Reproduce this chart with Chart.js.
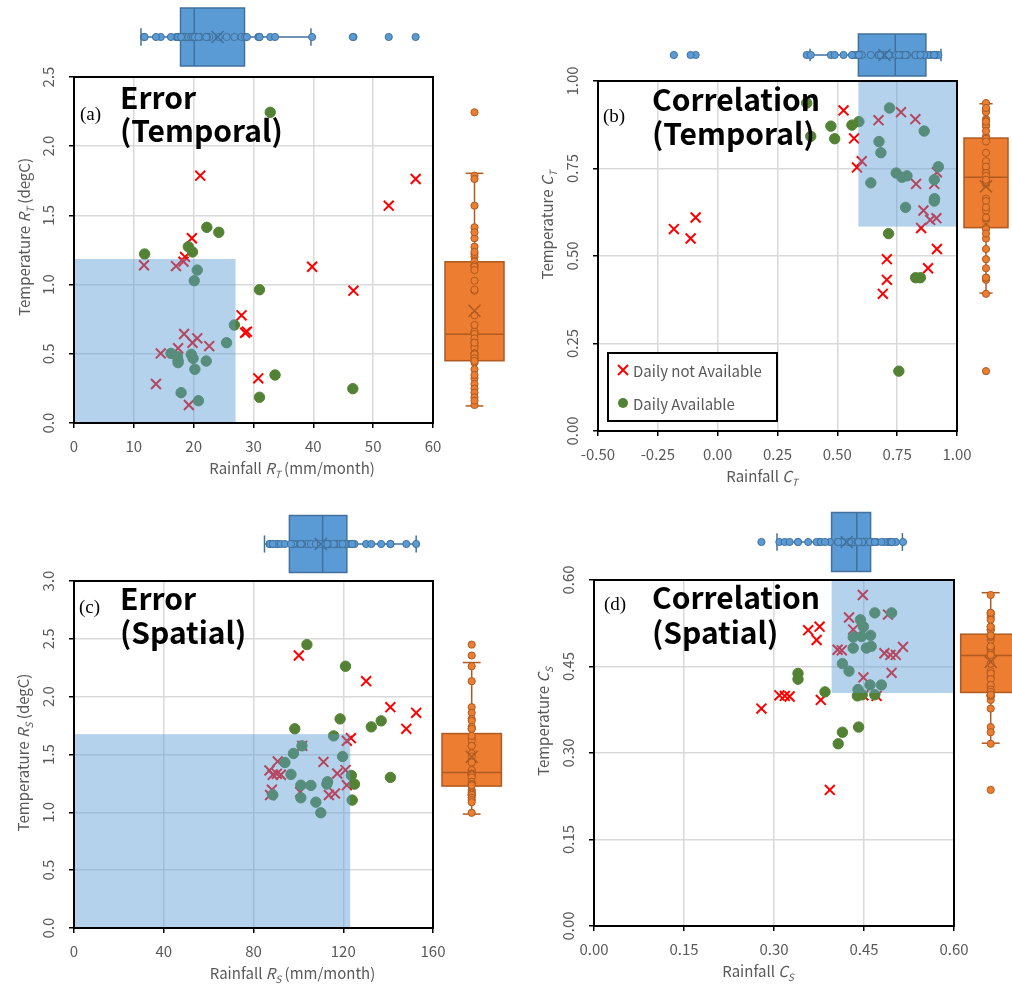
<!DOCTYPE html>
<html>
<head>
<meta charset="utf-8">
<script src="https://cdn.jsdelivr.net/npm/chart.js@4.4.1/dist/chart.umd.min.js"></script>
<style>
    body { margin: 0; background: #fff; width: 1012px; height: 985px; position: relative; overflow: hidden; }
    canvas { position: absolute; }
</style>
</head>
<body>
<canvas id="cA" width="506" height="492" style="left:0;top:0"></canvas>
<canvas id="cB" width="506" height="492" style="left:506px;top:0"></canvas>
<canvas id="cC" width="506" height="493" style="left:0;top:492px"></canvas>
<canvas id="cD" width="506" height="493" style="left:506px;top:492px"></canvas>
<script>
// (a) Error (Temporal)
const aRedX = [21.1, 57.1, 52.6, 19.7, 18.55, 18.3, 17.05, 11.7, 39.8, 46.7, 28.0, 28.6, 28.9, 18.4, 20.6, 19.8, 22.6, 17.4, 14.5, 30.8, 13.7, 19.2];
const aRedY = [1.787, 1.763, 1.570, 1.335, 1.200, 1.166, 1.134, 1.140, 1.129, 0.956, 0.778, 0.652, 0.660, 0.643, 0.612, 0.580, 0.556, 0.540, 0.503, 0.323, 0.282, 0.130];
const aGreenX = [32.8, 22.2, 24.2, 11.8, 19.1, 19.8, 20.6, 20.1, 31.0, 26.8, 25.5, 16.2, 17.3, 17.4, 17.4, 19.6, 19.9, 22.1, 20.2, 33.6, 46.6, 17.9, 31.0, 20.8];
const aGreenY = [2.245, 1.414, 1.378, 1.221, 1.274, 1.236, 1.105, 1.028, 0.963, 0.708, 0.580, 0.503, 0.479, 0.450, 0.436, 0.496, 0.467, 0.448, 0.388, 0.347, 0.248, 0.219, 0.186, 0.161];
const aXTicks = [0, 10, 20, 30, 40, 50, 60];
const aYTicks = [0, 0.5, 1.0, 1.5, 2.0, 2.5];
const aTopBox = [11.2, 17.8, 20.1, 28.5, 39.6];   // whisker, Q1, median, Q3, whisker
const aTopMean = 24.0;
const aSideBox = [0.123, 0.450, 0.641, 1.165, 1.804];
const aSideMean = 0.811;
const aShade = [0, 27.0, 0, 1.185];                // x from, x to, y from, y to

// (b) Correlation (Temporal)
const bRedX = [0.526, 0.766, 0.826, 0.672, 0.570, 0.602, 0.582, 0.916, 0.829, 0.905, 0.860, 0.888, 0.914, 0.850, 0.916, 0.707, 0.707, 0.690, 0.879, -0.092, -0.183, -0.113];
const bRedY = [0.916, 0.911, 0.891, 0.888, 0.836, 0.771, 0.753, 0.739, 0.706, 0.706, 0.630, 0.603, 0.608, 0.580, 0.520, 0.491, 0.432, 0.392, 0.465, 0.610, 0.577, 0.550];
const bGreenX = [0.372, 0.718, 0.473, 0.561, 0.590, 0.389, 0.489, 0.863, 0.674, 0.682, 0.922, 0.746, 0.770, 0.791, 0.640, 0.905, 0.906, 0.905, 0.785, 0.714, 0.827, 0.847, 0.757];
const bGreenY = [0.937, 0.923, 0.871, 0.874, 0.884, 0.842, 0.835, 0.857, 0.827, 0.795, 0.755, 0.737, 0.725, 0.729, 0.709, 0.718, 0.664, 0.657, 0.639, 0.564, 0.438, 0.438, 0.171];
const bXTicks = [-0.5, -0.25, 0, 0.25, 0.5, 0.75, 1.0];
const bYTicks = [0, 0.25, 0.5, 0.75, 1.0];
const bTopBox = [0.386, 0.588, 0.742, 0.870, 0.933];
const bTopMean = 0.697;
const bSideBox = [0.394, 0.581, 0.725, 0.837, 0.935];
const bSideMean = 0.699;
const bShade = [0.588, 1.0, 0.584, 1.0];

// (c) Error (Spatial)
const cRedX = [100.2, 130.2, 141.0, 152.5, 148.1, 123.4, 121.6, 101.7, 111.2, 90.8, 87.1, 121.0, 117.3, 88.6, 90.4, 92.2, 121.6, 88.2, 100.8, 87.4, 113.6, 116.3];
const cRedY = [2.356, 2.134, 1.909, 1.860, 1.722, 1.641, 1.618, 1.575, 1.436, 1.440, 1.362, 1.365, 1.336, 1.325, 1.333, 1.325, 1.235, 1.195, 1.176, 1.150, 1.150, 1.163];
const cGreenX = [103.8, 121.0, 118.6, 136.9, 132.5, 98.4, 115.7, 101.6, 97.8, 119.7, 94.0, 96.7, 123.6, 141.0, 113.0, 112.7, 125.0, 101.1, 105.6, 88.6, 101.1, 124.0, 107.8, 110.0];
const cGreenY = [2.450, 2.263, 1.808, 1.791, 1.739, 1.722, 1.661, 1.575, 1.509, 1.483, 1.431, 1.328, 1.319, 1.302, 1.264, 1.244, 1.244, 1.235, 1.233, 1.151, 1.126, 1.106, 1.088, 0.996];
const cXTicks = [0, 40, 80, 120, 160];
const cYTicks = [0, 0.5, 1.0, 1.5, 2.0, 2.5, 3.0];
const cTopBox = [84.9, 96.0, 110.8, 121.6, 152.5];
const cTopMean = 110.0;
const cSideBox = [0.985, 1.227, 1.345, 1.681, 2.295];
const cSideMean = 1.480;
const cShade = [0, 123.1, 0, 1.676];

// (d) Correlation (Spatial)
const dRedX = [0.448, 0.425, 0.490, 0.432, 0.357, 0.376, 0.371, 0.406, 0.413, 0.515, 0.484, 0.494, 0.503, 0.496, 0.449, 0.309, 0.318, 0.326, 0.471, 0.449, 0.378, 0.279, 0.393];
const dRedY = [0.574, 0.535, 0.540, 0.514, 0.513, 0.519, 0.496, 0.479, 0.478, 0.484, 0.473, 0.470, 0.470, 0.439, 0.431, 0.400, 0.399, 0.398, 0.399, 0.400, 0.392, 0.377, 0.236];
const dGreenX = [0.468, 0.496, 0.444, 0.449, 0.432, 0.446, 0.461, 0.432, 0.454, 0.462, 0.414, 0.425, 0.340, 0.340, 0.460, 0.479, 0.440, 0.385, 0.439, 0.468, 0.447, 0.441, 0.414, 0.407];
const dGreenY = [0.543, 0.543, 0.531, 0.519, 0.501, 0.502, 0.504, 0.482, 0.482, 0.485, 0.455, 0.442, 0.438, 0.428, 0.418, 0.418, 0.410, 0.406, 0.399, 0.401, 0.401, 0.345, 0.336, 0.316];
const dXTicks = [0, 0.15, 0.30, 0.45, 0.60];
const dYTicks = [0, 0.15, 0.30, 0.45, 0.60];
const dTopBox = [0.305, 0.396, 0.438, 0.461, 0.514];
const dTopMean = 0.421;
const dSideBox = [0.317, 0.405, 0.469, 0.506, 0.578];
const dSideMean = 0.458;
const dShade = [0.396, 0.6, 0.404, 0.6];

const seriesNames = ['Daily not Available', 'Daily Available'];

const LF = '"Noto Sans CJK JP", "Noto Sans", sans-serif';
const GRAY = '#595959';
const RED = '#FF0000';
const GREEN = '#548235';

function pts(xs, ys) {
    return xs.map((x, i) => ({ x: x, y: ys[i] }));
}

// 斜体記号と下付き文字を含む軸タイトル
function titleParts(pre, sym, sub, post) {
    const parts = [
        { text: pre, font: `15px ${LF}` },
        { text: sym, font: `italic 15px ${LF}` },
        { text: sub, font: `italic 10px ${LF}`, dy: 4 }
    ];
    if (post) parts.push({ text: post, font: `15px ${LF}` });
    return parts;
}

function drawRich(ctx, parts, cx, cy, rot) {
    ctx.save();
    ctx.translate(cx, cy);
    if (rot) ctx.rotate(rot);
    let w = 0;
    parts.forEach(p => { ctx.font = p.font; w += ctx.measureText(p.text).width; });
    let x = -w / 2;
    ctx.fillStyle = GRAY;
    ctx.textAlign = 'left';
    ctx.textBaseline = 'alphabetic';
    parts.forEach(p => {
        ctx.font = p.font;
        ctx.fillText(p.text, x, 5 + (p.dy || 0));
        x += ctx.measureText(p.text).width;
    });
    ctx.restore();
}

function drawBox(ctx, scale, horizontal, center, half, stats, mean, values, fill, line) {
    const P = (v, o) => horizontal ? [scale.getPixelForValue(v), center + o] : [center + o, scale.getPixelForValue(v)];
    const seg = (a, b) => { ctx.beginPath(); ctx.moveTo(a[0], a[1]); ctx.lineTo(b[0], b[1]); ctx.stroke(); };
    const cap = half * 0.3;
    ctx.save();
    ctx.strokeStyle = line;
    ctx.lineWidth = 1.5;
    seg(P(stats[0], 0), P(stats[1], 0));
    seg(P(stats[3], 0), P(stats[4], 0));
    seg(P(stats[0], -cap), P(stats[0], cap));
    seg(P(stats[4], -cap), P(stats[4], cap));
    const c1 = P(stats[1], -half), c2 = P(stats[3], half);
    const rx = Math.min(c1[0], c2[0]), ry = Math.min(c1[1], c2[1]);
    const rw = Math.abs(c2[0] - c1[0]), rh = Math.abs(c2[1] - c1[1]);
    ctx.fillStyle = fill;
    ctx.fillRect(rx, ry, rw, rh);
    ctx.strokeRect(rx, ry, rw, rh);
    seg(P(stats[2], -half), P(stats[2], half));
    ctx.lineWidth = 1;
    values.forEach(v => {
        const q = P(v, 0);
        ctx.beginPath();
        ctx.arc(q[0], q[1], 3.6, 0, Math.PI * 2);
        ctx.fillStyle = fill;
        ctx.fill();
        ctx.stroke();
    });
    const m = P(mean, 0);
    ctx.lineWidth = 1.5;
    seg([m[0] - 6, m[1] - 6], [m[0] + 6, m[1] + 6]);
    seg([m[0] - 6, m[1] + 6], [m[0] + 6, m[1] - 6]);
    ctx.restore();
}

function makePanel(p) {
    const canvas = document.getElementById(p.id);
    const W = canvas.width, H = canvas.height;
    const L = p.area[0] - p.left, T = p.area[1] - p.top;
    const R = p.area[2] - p.left, B = p.area[3] - p.top;
    const lx = v => v - p.left, ly = v => v - p.top;

    const decor = {
        id: 'decor',
        afterDatasetsDraw(chart) {
            const { ctx, chartArea: a, scales: { x, y } } = chart;
            // 網掛け領域
            ctx.save();
            ctx.beginPath();
            ctx.rect(a.left, a.top, a.right - a.left, a.bottom - a.top);
            ctx.clip();
            const x0 = x.getPixelForValue(p.shade[0]), x1 = x.getPixelForValue(p.shade[1]);
            const y0 = y.getPixelForValue(p.shade[2]), y1 = y.getPixelForValue(p.shade[3]);
            ctx.fillStyle = 'rgba(91,155,213,0.45)';
            ctx.fillRect(x0, y1, x1 - x0, y0 - y1);
            ctx.restore();
            // 枠線
            ctx.save();
            ctx.strokeStyle = '#000';
            ctx.lineWidth = 2;
            ctx.strokeRect(a.left, a.top, a.right - a.left, a.bottom - a.top);
            ctx.restore();
        },
        afterDraw(chart) {
            const { ctx, chartArea: a, scales: { x, y } } = chart;
            // 縦軸目盛ラベル（縦書き）
            ctx.save();
            ctx.fillStyle = GRAY;
            ctx.font = `15px ${LF}`;
            ctx.textAlign = 'center';
            ctx.textBaseline = 'middle';
            y.ticks.forEach(t => {
                const py = y.getPixelForValue(t.value);
                ctx.save();
                ctx.translate(a.left - 27, py);
                ctx.rotate(-Math.PI / 2);
                ctx.fillText(t.value.toFixed(p.yDec), 0, 1);
                ctx.restore();
            });
            ctx.restore();

            drawRich(ctx, p.yTitle, lx(p.yTitlePos[0]), ly(p.yTitlePos[1]), -Math.PI / 2);
            drawRich(ctx, p.xTitle, lx(p.xTitlePos[0]), ly(p.xTitlePos[1]), 0);

            // パネル記号とタイトル
            ctx.save();
            ctx.fillStyle = '#000';
            ctx.textAlign = 'left';
            ctx.textBaseline = 'middle';
            ctx.font = '19px "Liberation Serif", serif';
            ctx.fillText(p.tag, lx(p.tagPos[0]), ly(p.tagPos[1]));
            ctx.textBaseline = 'alphabetic';
            ctx.font = `bold 30px ${LF}`;
            ctx.fillText(p.title[0], lx(p.titlePos[0]), ly(p.titlePos[1]));
            ctx.fillText(p.title[1], lx(p.titlePos[0]), ly(p.titlePos[2]));
            ctx.restore();

            // 箱ひげ図
            const allX = p.red.x.concat(p.green.x);
            const allY = p.red.y.concat(p.green.y);
            drawBox(ctx, x, true, ly(p.topPos[0]), p.topPos[1], p.topBox, p.topMean, allX, '#5B9BD5', '#41719C');
            drawBox(ctx, y, false, lx(p.sidePos[0]), p.sidePos[1], p.sideBox, p.sideMean, allY, '#ED7D31', '#AE5A21');

            // 凡例
            if (p.legend) {
                const [bx0, by0, bx1, by1] = p.legend.map((v, i) => i % 2 ? ly(v) : lx(v));
                ctx.save();
                ctx.fillStyle = '#fff';
                ctx.fillRect(bx0, by0, bx1 - bx0, by1 - by0);
                ctx.strokeStyle = '#000';
                ctx.lineWidth = 2;
                ctx.strokeRect(bx0, by0, bx1 - bx0, by1 - by0);
                const mx = bx0 + 15, r1 = by0 + 17, r2 = by0 + 50;
                ctx.strokeStyle = RED;
                ctx.lineWidth = 2;
                ctx.beginPath();
                ctx.moveTo(mx - 5, r1 - 5); ctx.lineTo(mx + 5, r1 + 5);
                ctx.moveTo(mx - 5, r1 + 5); ctx.lineTo(mx + 5, r1 - 5);
                ctx.stroke();
                ctx.fillStyle = GREEN;
                ctx.beginPath();
                ctx.arc(mx, r2, 5, 0, Math.PI * 2);
                ctx.fill();
                ctx.fillStyle = GRAY;
                ctx.font = `15px ${LF}`;
                ctx.textAlign = 'left';
                ctx.textBaseline = 'middle';
                ctx.fillText(seriesNames[0], mx + 10, r1 + 1);
                ctx.fillText(seriesNames[1], mx + 10, r2 + 1);
                ctx.restore();
            }
        }
    };

    const xt = p.xTicks, yt = p.yTicks;
    new Chart(canvas.getContext('2d'), {
        type: 'scatter',
        data: {
            datasets: [
                {
                    label: seriesNames[0],
                    data: pts(p.red.x, p.red.y),
                    pointStyle: 'crossRot',
                    pointRadius: 7,
                    borderColor: RED,
                    backgroundColor: RED,
                    borderWidth: 2,
                    order: 2
                },
                {
                    label: seriesNames[1],
                    data: pts(p.green.x, p.green.y),
                    pointStyle: 'circle',
                    pointRadius: 5.2,
                    borderColor: GREEN,
                    backgroundColor: GREEN,
                    borderWidth: 1,
                    order: 1
                }
            ]
        },
        options: {
            responsive: false,
            animation: false,
            devicePixelRatio: 1,
            layout: { padding: { top: T, right: W - R, left: 0, bottom: 0 } },
            plugins: { legend: { display: false }, tooltip: { enabled: false } },
            scales: {
                x: {
                    type: 'linear',
                    min: xt[0],
                    max: xt[xt.length - 1],
                    afterFit: s => { s.height = H - B; },
                    afterBuildTicks: s => { s.ticks = xt.map(v => ({ value: v })); },
                    grid: { color: '#d9d9d9', lineWidth: 1.5, drawTicks: true, tickLength: 5, tickColor: '#000', tickWidth: 1.5 },
                    border: { display: true, color: '#000', width: 2 },
                    ticks: {
                        color: GRAY,
                        font: { family: LF, size: 15 },
                        padding: 9,
                        maxRotation: 0,
                        autoSkip: false,
                        callback: v => Number(v).toFixed(p.xDec)
                    }
                },
                y: {
                    type: 'linear',
                    min: yt[0],
                    max: yt[yt.length - 1],
                    afterFit: s => { s.width = L; },
                    afterBuildTicks: s => { s.ticks = yt.map(v => ({ value: v })); },
                    grid: { color: '#d9d9d9', lineWidth: 1.5, drawTicks: true, tickLength: 5, tickColor: '#000', tickWidth: 1.5 },
                    border: { display: true, color: '#000', width: 2 },
                    ticks: { display: false }
                }
            }
        },
        plugins: [decor]
    });
}

makePanel({
    id: 'cA', left: 0, top: 0, area: [74, 77, 433, 423],
    red: { x: aRedX, y: aRedY }, green: { x: aGreenX, y: aGreenY },
    xTicks: aXTicks, yTicks: aYTicks, xDec: 0, yDec: 1,
    topBox: aTopBox, topMean: aTopMean, sideBox: aSideBox, sideMean: aSideMean, shade: aShade,
    topPos: [37, 29], sidePos: [474.5, 29.5],
    tag: '(a)', tagPos: [80, 115], title: ['Error', '(Temporal)'], titlePos: [120, 109, 142],
    yTitle: titleParts('Temperature ', 'R', 'T', ' (degC)'), yTitlePos: [24.5, 237],
    xTitle: titleParts('Rainfall ', 'R', 'T', ' (mm/month)'), xTitlePos: [292, 469]
});

makePanel({
    id: 'cB', left: 506, top: 0, area: [598, 81, 957, 431],
    red: { x: bRedX, y: bRedY }, green: { x: bGreenX, y: bGreenY },
    xTicks: bXTicks, yTicks: bYTicks, xDec: 2, yDec: 2,
    topBox: bTopBox, topMean: bTopMean, sideBox: bSideBox, sideMean: bSideMean, shade: bShade,
    topPos: [55, 21], sidePos: [986, 22],
    tag: '(b)', tagPos: [603, 117], title: ['Correlation', '(Temporal)'], titlePos: [652, 111, 145],
    yTitle: titleParts('Temperature ', 'C', 'T', ''), yTitlePos: [547.5, 225],
    xTitle: titleParts('Rainfall ', 'C', 'T', ''), xTitlePos: [762, 477],
    legend: [608, 353, 777, 421]
});

makePanel({
    id: 'cC', left: 0, top: 492, area: [74, 581, 433, 928],
    red: { x: cRedX, y: cRedY }, green: { x: cGreenX, y: cGreenY },
    xTicks: cXTicks, yTicks: cYTicks, xDec: 0, yDec: 1,
    topBox: cTopBox, topMean: cTopMean, sideBox: cSideBox, sideMean: cSideMean, shade: cShade,
    topPos: [544, 28.5], sidePos: [471.7, 29.7],
    tag: '(c)', tagPos: [79, 608], title: ['Error', '(Spatial)'], titlePos: [120, 610, 644],
    yTitle: titleParts('Temperature ', 'R', 'S', ' (degC)'), yTitlePos: [24, 752.5],
    xTitle: titleParts('Rainfall ', 'R', 'S', ' (mm/month)'), xTitlePos: [292.5, 974]
});

makePanel({
    id: 'cD', left: 506, top: 492, area: [594, 580, 954, 926],
    red: { x: dRedX, y: dRedY }, green: { x: dGreenX, y: dGreenY },
    xTicks: dXTicks, yTicks: dYTicks, xDec: 2, yDec: 2,
    topBox: dTopBox, topMean: dTopMean, sideBox: dSideBox, sideMean: dSideMean, shade: dShade,
    topPos: [542, 29.5], sidePos: [990.7, 30],
    tag: '(d)', tagPos: [604, 605], title: ['Correlation', '(Spatial)'], titlePos: [652, 609, 644],
    yTitle: titleParts('Temperature ', 'C', 'S', ''), yTitlePos: [544, 721.5],
    xTitle: titleParts('Rainfall ', 'C', 'S', ''), xTitlePos: [758, 972]
});
</script>
</body>
</html>
